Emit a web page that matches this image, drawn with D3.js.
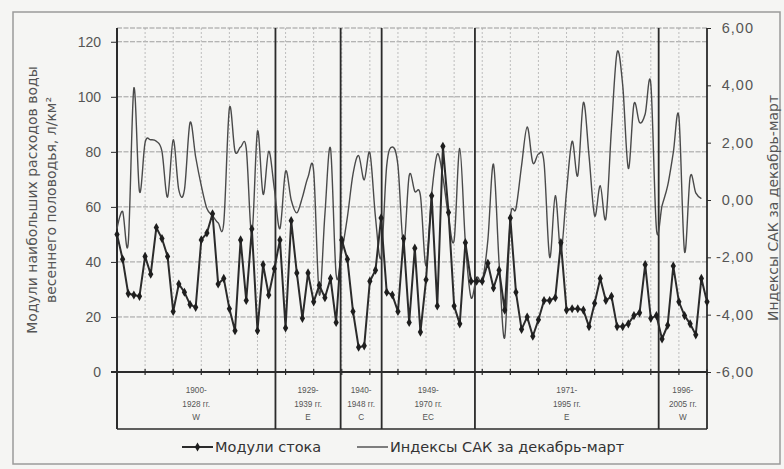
<!DOCTYPE html>
<html><head><meta charset="utf-8">
<script src="https://cdn.jsdelivr.net/npm/d3@7"></script>
<style>
body{margin:0;background:#f5f5f3}
svg{display:block}
</style>
</head><body>
<svg id="c" width="784" height="469"></svg>
<script>
// ---------- data ----------
const years = d3.range(1900, 2006);
const runoff = [50,41,28.5,28,27.5,42,35.5,52.5,48.5,42,
  22,32,29,24.5,23.5,48,50.5,57.5,32,34,
  23,15,48,26,52,15,39,28,37.5,48,
  16,55,36,19.5,36,25.5,31.5,27,34,18,
  48,41,22,9,9.5,33,37,56,29,28,
  22,48.5,18,45,14.5,33.5,64,24,82,58,
  24,17.5,47,33,33,33,39.5,30.5,37,22.5,
  56,29,15.5,20,13,19,26,26,27,47,
  22.5,23,23,22.5,16.5,25,34,26,27.5,16.5,
  16.5,17.5,20.5,21.5,39,19.5,20.5,12,17,38.5,
  25.5,20.5,17.5,13.5,34,25.5];
const nao = [-1.0,-0.4,-1.5,3.9,0.3,2.0,2.1,2.05,1.7,0.1,
  2.1,0.35,0.35,2.7,1.5,0.5,-0.3,-0.55,-0.8,-0.8,
  3.2,1.7,1.85,1.8,-1.2,2.4,0.2,1.7,0.4,-1.0,
  1.0,0.0,-0.45,0.1,0.8,1.0,-3.3,-0.5,1.8,-2.6,
  -1.8,-0.6,0.9,1.55,0.7,1.65,-0.6,-2.0,1.2,1.85,
  1.2,-1.6,0.85,0.3,0.15,-2.3,0.2,1.6,0.8,-0.6,
  -1.4,1.8,-1.5,-3.4,-2.7,-2.8,-1.4,1.25,-2.2,-4.8,
  -0.65,-0.3,1.2,2.55,1.3,1.6,1.3,-2.0,0.15,-1.8,
  0.3,2.05,0.85,3.4,1.55,-0.55,0.5,-0.65,2.5,5.15,
  4.0,1.1,3.35,2.7,3.0,4.05,-1.0,-0.2,0.5,1.65,
  2.9,-1.8,0.8,0.25,0.05];
const leftTicks = [0,20,40,60,80,100,120];
const rightTicks = [-6,-4,-2,0,2,4,6];
const xTicks = d3.range(1900, 2006, 5);
const periodBounds = [1928.2, 1939.8, 1947.1, 1963.7, 1996.4];
const periodLabels = [["1900-","1928 гг.","W"],["1929-","1939 гг.","E"],["1940-","1948 гг.","C"],
  ["1949-","1970 гг.","EC"],["1971-","1995 гг.","E"],["1996-","2005 гг.","W"]];
const leftTitle = ["Модули наибольших расходов воды","весеннего половодья, л/км²"];
const rightTitle = "Индексы САК за декабрь-март";
const legendNames = ["Модули стока","Индексы САК за декабрь-март"];

// ---------- layout ----------
const L=117, R=707, T=28, B=372, BOX=429;
const WIDE='"DejaVu Sans",sans-serif';
const NARROW='"Liberation Sans",Arial,sans-serif';
const svg = d3.select("#c");
const x = d3.scaleLinear([1900,2005],[L,R]);
const yL = d3.scaleLinear([0,125],[B,T]);
const yR = d3.scaleLinear([-6,6],[B,T]);
const ink="#2b2b2b", grey="#555";

// outer frame
svg.append("rect").attr("x",13).attr("y",12).attr("width",767).attr("height",452)
  .attr("fill","none").attr("stroke","#9a9a9a").attr("stroke-width",1.5);

// gridlines
svg.append("g").selectAll("line").data(leftTicks.filter(d=>d>0)).join("line")
  .attr("x1",L).attr("x2",R).attr("y1",d=>yL(d)).attr("y2",d=>yL(d))
  .attr("stroke","#9e9e9e").attr("stroke-width",1).attr("stroke-dasharray","5,1.5");
svg.append("g").selectAll("line").data(xTicks.filter(d=>d>1900&&d<2005)).join("line")
  .attr("x1",d=>x(d)).attr("x2",d=>x(d)).attr("y1",T).attr("y2",B)
  .attr("stroke","#bdbdbd").attr("stroke-dasharray","2,2");
svg.append("line").attr("x1",L).attr("x2",R).attr("y1",T).attr("y2",T)
  .attr("stroke","#9a9a9a").attr("stroke-width",1.2).attr("stroke-dasharray","5,1.5");

// period box
svg.append("line").attr("x1",L).attr("x2",R).attr("y1",BOX).attr("y2",BOX)
  .attr("stroke",ink).attr("stroke-width",1.6);
svg.append("g").selectAll("line").data(periodBounds).join("line")
  .attr("x1",d=>x(d)).attr("x2",d=>x(d)).attr("y1",T).attr("y2",BOX)
  .attr("stroke",ink).attr("stroke-width",1.8);
const edges=[1900,...periodBounds,2005];
const pl = svg.append("g").attr("font-family",NARROW).attr("font-size",8.2).attr("fill",grey).attr("text-anchor","middle");
periodLabels.forEach((lines,i)=>{
  const cx=(x(edges[i])+x(edges[i+1]))/2;
  lines.forEach((s,j)=>pl.append("text").attr("x",cx).attr("y",393+j*13.5).text(s));
});

// axes
const gl = svg.append("g").attr("transform",`translate(${L},0)`)
  .call(d3.axisLeft(yL).tickValues(leftTicks).tickSize(6).tickPadding(10));
gl.select(".domain").remove();
gl.attr("font-family",NARROW);
gl.selectAll(".tick line").attr("stroke",ink);
gl.selectAll(".tick text").attr("font-size",14).attr("fill",grey);
svg.append("line").attr("x1",L).attr("x2",L).attr("y1",T).attr("y2",BOX).attr("stroke",ink).attr("stroke-width",2);

const gr = svg.append("g").attr("transform",`translate(${R},0)`)
  .call(d3.axisRight(yR).tickValues(rightTicks).tickSize(4).tickPadding(6)
    .tickFormat(d=>d3.format(".2f")(d).replace(".",",").replace("−","-")));
gr.select(".domain").remove();
gr.attr("font-family",NARROW);
gr.selectAll(".tick line").attr("stroke",ink);
gr.selectAll(".tick text").attr("font-size",14.5).attr("fill",grey).attr("letter-spacing",1)
  .attr("text-anchor","end").attr("x",47);
svg.append("line").attr("x1",R).attr("x2",R).attr("y1",T).attr("y2",BOX).attr("stroke",ink).attr("stroke-width",1.8);

// x axis
svg.append("line").attr("x1",L-6).attr("x2",R).attr("y1",B).attr("y2",B).attr("stroke",ink).attr("stroke-width",1.8);
svg.append("g").selectAll("line").data(xTicks).join("line")
  .attr("x1",d=>x(d)).attr("x2",d=>x(d)).attr("y1",B-3).attr("y2",B+3)
  .attr("stroke",ink).attr("stroke-width",1.2);

// series
const naoLine = d3.line().x((d,i)=>x(years[i])).y(d=>yR(d)).curve(d3.curveCatmullRom.alpha(0));
svg.append("path").datum(nao).attr("d",naoLine).attr("fill","none")
  .attr("stroke","#4a4a4a").attr("stroke-width",1.4);
const runLine = d3.line().x((d,i)=>x(years[i])).y(d=>yL(d));
svg.append("path").datum(runoff).attr("d",runLine).attr("fill","none")
  .attr("stroke",ink).attr("stroke-width",2);
const sym = d3.symbol().type(d3.symbolDiamond).size(24);
svg.append("g").selectAll("path").data(runoff).join("path")
  .attr("transform",(d,i)=>`translate(${x(years[i])},${yL(d)})`).attr("d",sym).attr("fill","#1e1e1e");

// titles
const lt = svg.append("g").attr("font-family",WIDE).attr("font-size",14).attr("fill",grey).attr("text-anchor","middle");
leftTitle.forEach((s,i)=>lt.append("text").attr("transform",`translate(${37+i*19},200) rotate(-90)`).text(s));
svg.append("text").attr("font-family",WIDE).attr("transform","translate(778,208) rotate(-90)").attr("text-anchor","middle")
  .attr("font-size",14).attr("fill",grey).text(rightTitle);

// legend
const lg = svg.append("g").attr("font-family",WIDE).attr("font-size",14.5).attr("fill","#333");
lg.append("line").attr("x1",182).attr("x2",213).attr("y1",447).attr("y2",447).attr("stroke",ink).attr("stroke-width",2);
lg.append("path").attr("transform","translate(197.5,447)").attr("d",sym).attr("fill","#1e1e1e");
lg.append("text").attr("x",215).attr("y",452).text(legendNames[0]);
lg.append("line").attr("x1",357).attr("x2",388).attr("y1",447).attr("y2",447).attr("stroke","#4a4a4a").attr("stroke-width",1.4);
lg.append("text").attr("x",390).attr("y",452).text(legendNames[1]);
</script>
</body></html>
